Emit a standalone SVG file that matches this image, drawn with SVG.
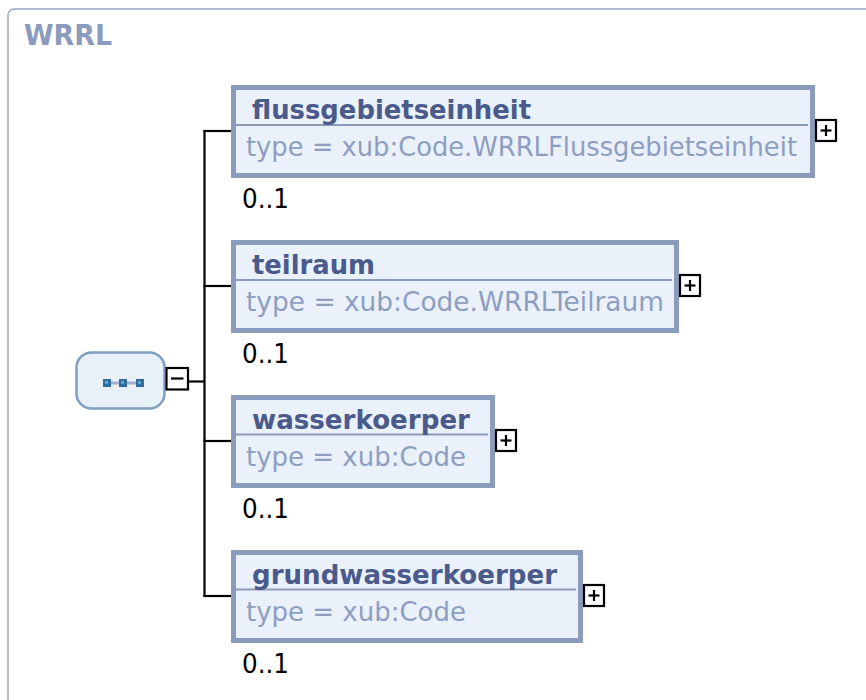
<svg xmlns="http://www.w3.org/2000/svg" width="866" height="700" viewBox="0 0 866 700">
<style>
.frame{fill:#ffffff;stroke:#9aa8c6;stroke-width:1.5}
.hdr{font-family:"DejaVu Sans",Verdana,sans-serif;font-weight:bold;font-size:29px;fill:#8b9bbd}
.box{fill:#eaf1fb;stroke:#8b9bbc;stroke-width:5}
.sep{stroke:#8b9bbc;stroke-width:2}
.title{font-family:"DejaVu Sans",Verdana,sans-serif;font-weight:bold;font-size:26px;fill:#4a5a8b}
.type{font-family:"DejaVu Sans",Verdana,sans-serif;font-size:27px;fill:#8e9ec1}
.card{font-family:"DejaVu Sans",Verdana,sans-serif;font-size:27px;fill:#000000}
.exp{fill:#ffffff;stroke:#000000;stroke-width:2.2}
.sign{stroke:#000000;stroke-width:2.2}
.conn{stroke:#000000;stroke-width:2.2;fill:none}
.seq{fill:#e8f0f8;stroke:#7f9fc0;stroke-width:2.5}
.sq{fill:#2f6b9c}
.sqi{fill:#5fa3d3}
</style>
<rect class="frame" x="8" y="9" width="900" height="800" rx="6"/>
<text class="hdr" x="24" y="45" textLength="88" lengthAdjust="spacingAndGlyphs">WRRL</text>

<g id="connectors">
<line class="conn" x1="189" y1="381.5" x2="204.5" y2="381.5"/>
<line class="conn" x1="204.5" y1="130" x2="204.5" y2="597"/>
<line class="conn" x1="203.5" y1="131" x2="231" y2="131"/>
<line class="conn" x1="203.5" y1="286" x2="231" y2="286"/>
<line class="conn" x1="203.5" y1="441" x2="231" y2="441"/>
<line class="conn" x1="203.5" y1="596" x2="231" y2="596"/>
</g>

<g id="sequence">
<rect class="seq" x="76.5" y="352.5" width="88" height="56" rx="15"/>
<line x1="111" y1="383" x2="136" y2="383" stroke="#9fb0d2" stroke-width="3"/>
<rect class="sq" x="103" y="379" width="8" height="8"/>
<rect class="sqi" x="105" y="381" width="3" height="3"/>
<rect class="sq" x="119" y="379" width="8" height="8"/>
<rect class="sqi" x="121" y="381" width="3" height="3"/>
<rect class="sq" x="136" y="379" width="8" height="8"/>
<rect class="sqi" x="138" y="381" width="3" height="3"/>
<rect class="exp" x="166.5" y="368" width="21.5" height="21.5"/>
<line class="sign" x1="171" y1="378.5" x2="183.5" y2="378.5"/>
</g>

<g id="flussgebietseinheit">
<rect class="box" x="233.5" y="87.5" width="579" height="88"/>
<line class="sep" x1="236" y1="125" x2="808" y2="125"/>
<text class="title" x="252" y="118.5" textLength="279" lengthAdjust="spacingAndGlyphs">flussgebietseinheit</text>
<text class="type" x="246" y="156" textLength="551" lengthAdjust="spacingAndGlyphs">type = xub:Code.WRRLFlussgebietseinheit</text>
<text class="card" x="242" y="207.5" textLength="47" lengthAdjust="spacingAndGlyphs">0..1</text>
<rect class="exp" x="816" y="120" width="20" height="21"/>
<line class="sign" x1="820.5" y1="130.5" x2="831.5" y2="130.5"/>
<line class="sign" x1="826" y1="125" x2="826" y2="136"/>
</g>

<g id="teilraum">
<rect class="box" x="233.5" y="242.5" width="443" height="88"/>
<line class="sep" x1="236" y1="280" x2="672" y2="280"/>
<text class="title" x="252" y="273.5" textLength="123" lengthAdjust="spacingAndGlyphs">teilraum</text>
<text class="type" x="246" y="310.5" textLength="418" lengthAdjust="spacingAndGlyphs">type = xub:Code.WRRLTeilraum</text>
<text class="card" x="242" y="362.5" textLength="47" lengthAdjust="spacingAndGlyphs">0..1</text>
<rect class="exp" x="680" y="275" width="20" height="21"/>
<line class="sign" x1="684.5" y1="285.5" x2="695.5" y2="285.5"/>
<line class="sign" x1="690" y1="280" x2="690" y2="291"/>
</g>

<g id="wasserkoerper">
<rect class="box" x="233.5" y="397.5" width="259" height="88"/>
<line class="sep" x1="236" y1="434.5" x2="488" y2="434.5"/>
<text class="title" x="252" y="428.5" textLength="218" lengthAdjust="spacingAndGlyphs">wasserkoerper</text>
<text class="type" x="246" y="465.5" textLength="220" lengthAdjust="spacingAndGlyphs">type = xub:Code</text>
<text class="card" x="242" y="517.5" textLength="47" lengthAdjust="spacingAndGlyphs">0..1</text>
<rect class="exp" x="496" y="430" width="20" height="21"/>
<line class="sign" x1="500.5" y1="440.5" x2="511.5" y2="440.5"/>
<line class="sign" x1="506" y1="435" x2="506" y2="446"/>
</g>

<g id="grundwasserkoerper">
<rect class="box" x="233.5" y="552.5" width="347" height="88"/>
<line class="sep" x1="236" y1="589.5" x2="576" y2="589.5"/>
<text class="title" x="252" y="583.5" textLength="305" lengthAdjust="spacingAndGlyphs">grundwasserkoerper</text>
<text class="type" x="246" y="620.5" textLength="220" lengthAdjust="spacingAndGlyphs">type = xub:Code</text>
<text class="card" x="242" y="672.5" textLength="47" lengthAdjust="spacingAndGlyphs">0..1</text>
<rect class="exp" x="584" y="585" width="20" height="21"/>
<line class="sign" x1="588.5" y1="595.5" x2="599.5" y2="595.5"/>
<line class="sign" x1="594" y1="590" x2="594" y2="601"/>
</g>
</svg>
